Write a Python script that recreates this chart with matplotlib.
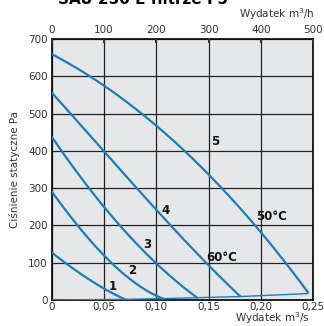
import matplotlib
matplotlib.use("Agg")
import matplotlib.pyplot as plt
import numpy as np

# fan curves, flow in m3/s, static pressure in Pa
q1 = [0, 0.02, 0.046, 0.07]
p1 = [127, 85, 37, 1.5]
q2 = [0, 0.029, 0.05, 0.075, 0.106]
p2 = [290, 188, 115, 58, 3.5]
q3 = [0, 0.027, 0.046, 0.065, 0.10, 0.139]
p3 = [437, 335, 260, 200, 99, 6]
q4 = [0, 0.017, 0.05, 0.075, 0.10, 0.125, 0.15, 0.18]
p4 = [557, 500, 402, 322, 236, 166, 97, 9]
q5 = [0, 0.025, 0.05, 0.075, 0.10, 0.125, 0.15, 0.175, 0.20, 0.225, 0.245]
p5 = [658, 620, 578, 527, 467, 401, 333, 262, 188, 98, 17]
# system (filter) curve along the bottom
qs = [0, 0.07, 0.106, 0.139, 0.18, 0.245]
ps = [0, 1.5, 3.5, 6, 9, 17]

xticks = [0, 0.05, 0.10, 0.15, 0.20, 0.25]
xlabels = ["0", "0,05", "0,10", "0,15", "0,20", "0,25"]
toplabels = ["0", "100", "200", "300", "400", "500"]
yticks = [0, 100, 200, 300, 400, 500, 600, 700]

curve_labels = ["1", "2", "3", "4", "5", "60°C", "50°C"]
label_pos = [(0.058, 35), (0.077, 80), (0.091, 150), (0.109, 241),
             (0.156, 424), (0.163, 115), (0.210, 225)]

blue = "#1b7dc0"

fig = plt.figure(figsize=(3.24, 3.26), dpi=100)
ax = fig.add_axes([0.160, 0.080, 0.806, 0.800])
ax.set_facecolor("#e6e7e8")

for q, p in [(q1, p1), (q2, p2), (q3, p3), (q4, p4), (q5, p5)]:
    xs = np.linspace(q[0], q[-1], 100)
    # smooth through the read points
    c = np.polyfit(q, p, min(3, len(q) - 1))
    ax.plot(xs, np.polyval(c, xs), color=blue, lw=1.6, zorder=3)
ax.plot(qs, ps, color=blue, lw=1.0, zorder=3)

ax.set_xlim(0, 0.25)
ax.set_ylim(0, 700)
ax.set_xticks(xticks)
ax.set_xticklabels(xlabels)
ax.set_yticks(yticks)
ax.grid(True, color="#222222", lw=0.9)
ax.set_axisbelow(True)
ax.tick_params(axis="both", length=0, labelsize=7.5, colors="#333333", pad=3)
ax.tick_params(axis="x", pad=1.5)
for s in ax.spines.values():
    s.set_linewidth(1.3)
    s.set_color("#111111")

for t, (x, y) in zip(curve_labels, label_pos):
    ax.text(x, y, t, fontsize=8.5, fontweight="bold", ha="center", va="center",
            color="#111111", zorder=4)

top = ax.twiny()
top.set_xlim(0, 0.25)
top.set_xticks(xticks)
top.set_xticklabels(toplabels)
top.tick_params(axis="x", direction="in", length=3, width=1.5, labelsize=7.5,
                colors="#333333", pad=3)
for s in top.spines.values():
    s.set_visible(False)

ax.set_ylabel("Ciśnienie statyczne Pa", fontsize=7.5, color="#333333", labelpad=6)
fig.text(0.957, 0.0, "Wydatek m$^3$/s", fontsize=7.5, color="#333333",
         ha="right", va="bottom")
fig.text(0.972, 0.945, "Wydatek m$^3$/h", fontsize=7.5, color="#333333", ha="right")
fig.text(0.44, 1.0, "SAU 250 E filtrze F5", fontsize=11, fontweight="bold",
         ha="center", va="center")

fig.savefig("out.png", dpi=100)
